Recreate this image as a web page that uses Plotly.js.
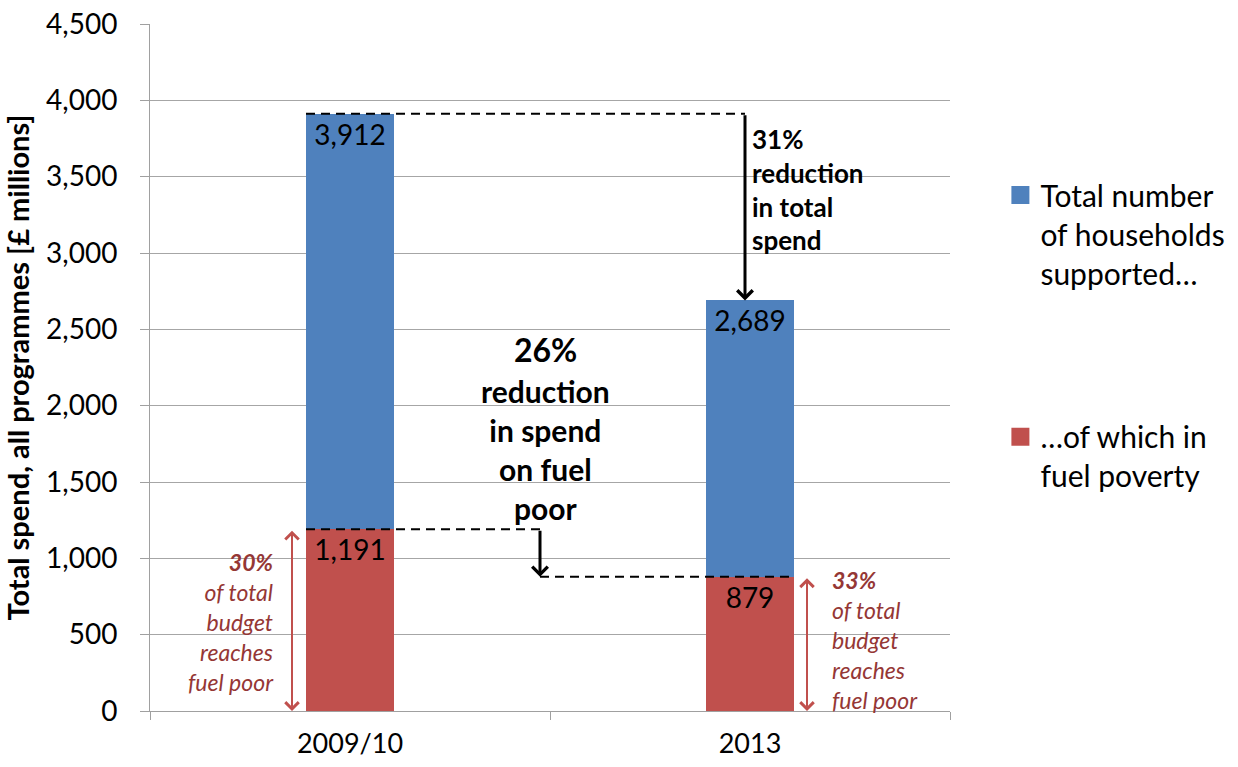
<!DOCTYPE html>
<html>
<head>
<meta charset="utf-8">
<script src="https://cdn.plot.ly/plotly-3.0.1.min.js"></script>
<style>html,body{margin:0;padding:0;background:#fff;}</style>
</head>
<body>
<div id="chart" style="width:1238px;height:767px;"></div>
<script>
const categories = ['2009/10', '2013'];
const totalSpend = [3912, 2689];
const fuelPoorSpend = [1191, 879];
const seriesNames = ['Total number<br>of households<br>supported…', '…of which in<br>fuel poverty'];
const yTickValues = [0, 500, 1000, 1500, 2000, 2500, 3000, 3500, 4000, 4500];

const otherSpend = totalSpend.map((t, i) => t - fuelPoorSpend[i]);
const fmt = v => v.toLocaleString('en-US');
const pct = v => Math.round(v * 100) + '%';
const shareFuelPoor = totalSpend.map((t, i) => pct(fuelPoorSpend[i] / t));
const totalReduction = pct(1 - totalSpend[1] / totalSpend[0]);
const fuelReduction = pct(1 - fuelPoorSpend[1] / fuelPoorSpend[0]);

const BLUE = '#4f81bd', RED = '#c0504d', DARKRED = '#953735';
const FONT = 'Lato, sans-serif';
const barWidth = 0.22;

const traces = [
  {
    type: 'bar', x: categories, y: fuelPoorSpend, name: seriesNames[1],
    marker: {color: RED}, width: barWidth,
    text: fuelPoorSpend.map(fmt), textposition: 'inside', insidetextanchor: 'end',
    textangle: 0, constraintext: 'none',
    textfont: {size: 28, color: '#000', family: FONT},
    legend: 'legend2', hoverinfo: 'skip'
  },
  {
    type: 'bar', x: categories, y: otherSpend, name: seriesNames[0],
    marker: {color: BLUE}, width: barWidth,
    text: totalSpend.map(fmt), textposition: 'inside', insidetextanchor: 'end',
    textangle: 0, constraintext: 'none',
    textfont: {size: 28, color: '#000', family: FONT},
    legend: 'legend', hoverinfo: 'skip'
  }
];

const dashLine = {color: '#000', width: 2, dash: '9px,6px'};
const arrowX1 = 0.9875, arrowX2 = 0.475;
const shapes = [
  {type: 'line', xref: 'x', yref: 'y', x0: -barWidth / 2, x1: arrowX1, y0: totalSpend[0], y1: totalSpend[0], line: dashLine, layer: 'above'},
  {type: 'line', xref: 'x', yref: 'y', x0: -barWidth / 2, x1: arrowX2, y0: fuelPoorSpend[0], y1: fuelPoorSpend[0], line: dashLine, layer: 'above'},
  {type: 'line', xref: 'x', yref: 'y', x0: arrowX2, x1: 1 + barWidth / 2, y0: fuelPoorSpend[1], y1: fuelPoorSpend[1], line: dashLine, layer: 'above'}
];

const arrow = (x, yTip, yTail, color, width, both, size) => ({
  xref: 'x', yref: 'y', axref: 'x', ayref: 'y',
  x: x, y: yTip, ax: x, ay: yTail, text: '', showarrow: true,
  arrowhead: 4, startarrowhead: 4, arrowside: both ? 'end+start' : 'end',
  arrowsize: size, startarrowsize: size, arrowwidth: width, arrowcolor: color
});

const annotations = [
  arrow(arrowX1, totalSpend[1], totalSpend[0], '#000', 3, false, 1),
  arrow(arrowX2, fuelPoorSpend[1], fuelPoorSpend[0], '#000', 3, false, 1),
  arrow(-0.145, 0, fuelPoorSpend[0], RED, 2, true, 1.3),
  arrow(1.1425, 0, fuelPoorSpend[1], RED, 2, true, 1.3),
  {xref: 'x', yref: 'y', x: 1.0, y: 3419, xanchor: 'left', yanchor: 'middle', align: 'left', showarrow: false,
   text: '<b>' + totalReduction + '<br>reduction<br>in total<br>spend</b>', font: {size: 26, color: '#000', family: FONT}},
  {xref: 'x', yref: 'y', x: 0.4875, y: 2365, xanchor: 'center', yanchor: 'middle', showarrow: false,
   text: '<b>' + fuelReduction + '</b>', font: {size: 32, color: '#000', family: FONT}},
  {xref: 'x', yref: 'y', x: 0.4875, y: 1713, xanchor: 'center', yanchor: 'middle', align: 'center', showarrow: false,
   text: '<b>reduction<br>in spend<br>on fuel<br>poor</b>', font: {size: 30, color: '#000', family: FONT}},
  {xref: 'x', yref: 'y', x: -0.185, y: 583, xanchor: 'right', yanchor: 'middle', align: 'right', showarrow: false,
   text: '<i><b>' + shareFuelPoor[0] + '</b><br>of total<br>budget<br>reaches<br>fuel poor</i>', font: {size: 23, color: DARKRED, family: FONT}},
  {xref: 'x', yref: 'y', x: 1.2, y: 465, xanchor: 'left', yanchor: 'middle', align: 'left', showarrow: false,
   text: '<i><b>' + shareFuelPoor[1] + '</b><br>of total<br>budget<br>reaches<br>fuel poor</i>', font: {size: 23, color: DARKRED, family: FONT}}
];

const legendBase = {
  xref: 'paper', yref: 'paper', xanchor: 'left', yanchor: 'top', valign: 'top',
  font: {size: 30, color: '#000', family: FONT}, bgcolor: 'rgba(0,0,0,0)', borderwidth: 0,
  itemclick: false, itemdoubleclick: false
};

const layout = {
  width: 1238, height: 767,
  margin: {l: 150, r: 288, t: 24, b: 56, pad: 0, autoexpand: false},
  paper_bgcolor: '#fff', plot_bgcolor: '#fff',
  font: {family: FONT, color: '#000'},
  barmode: 'stack',
  showlegend: true,
  legend: Object.assign({}, legendBase, {x: 1.063, y: 0.789}),
  legend2: Object.assign({}, legendBase, {x: 1.063, y: 0.437}),
  xaxis: {
    type: 'category', range: [-0.5, 1.5], tickson: 'boundaries',
    ticks: 'outside', ticklen: 8, tickcolor: '#a0a0a0', tickwidth: 1,
    showline: true, linecolor: '#a0a0a0', linewidth: 1,
    showgrid: false, zeroline: false, ticklabelstandoff: 9,
    tickfont: {size: 27, color: '#000', family: FONT}, fixedrange: true
  },
  yaxis: {
    range: [0, 4500], tickvals: yTickValues, tickformat: ',d',
    ticks: 'outside', ticklen: 9, tickcolor: '#a0a0a0', tickwidth: 1,
    showline: true, linecolor: '#a0a0a0', linewidth: 1,
    showgrid: true, gridcolor: '#a6a6a6', gridwidth: 1, zeroline: false,
    tickfont: {size: 28, color: '#000', family: FONT}, ticklabelstandoff: 17,
    title: {text: '<b>Total spend, all programmes [£ millions]</b>', font: {size: 29, color: '#000', family: FONT}, standoff: 8},
    fixedrange: true
  },
  shapes: shapes,
  annotations: annotations
};

Plotly.newPlot('chart', traces, layout, {displayModeBar: false, staticPlot: true}).then(gd => {
  gd.querySelectorAll('.legendpoints path').forEach(p => {
    p.setAttribute('transform', (p.getAttribute('transform') || '') + ' scale(1.5)');
  });
});
</script>
</body>
</html>
